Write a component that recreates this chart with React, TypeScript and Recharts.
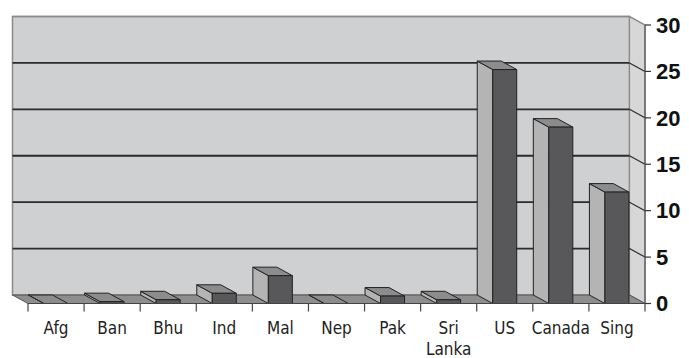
import React from 'react'
import { BarChart, Bar, XAxis, YAxis, CartesianGrid } from 'recharts'

const CATEGORIES = ['Afg', 'Ban', 'Bhu', 'Ind', 'Mal', 'Nep', 'Pak', 'Sri Lanka', 'US', 'Canada', 'Sing']
const VALUES = [0, 0.2, 0.4, 1.1, 3.0, 0, 0.8, 0.4, 25.2, 19.0, 12.0]
const Y_TICKS = [0, 5, 10, 15, 20, 25, 30]

const W = 689
const H = 358
const M = { top: 25, right: 0, left: 28, bottom: 0 }
const X_AXIS_H = 54.5
const Y_AXIS_W = 44
// 3d depth offset (front -> back)
const DX = 15.5
const DY = 8.5

const PL = M.left
const PR = W - M.right - Y_AXIS_W
const PT = M.top
const PB = H - M.bottom - X_AXIS_H

const COLORS = {
  wall: '#cfd0d2',
  sideWall: '#d7d7d8',
  floor: '#8e8e8e',
  front: '#58585a',
  side: '#b4b4b4',
  top: '#8c8c8c',
  grid: '#2b2b2b',
  edge: '#8a8a8a',
}

const data = CATEGORIES.map((name, i) => ({ name, value: VALUES[i] }))

function Walls() {
  return (
    <svg width={W} height={H} style={{ position: 'absolute', left: 0, top: 0 }}>
      <rect x={PL - DX} y={PT - DY} width={PR - PL} height={PB - PT} fill={COLORS.wall} stroke={COLORS.edge} strokeWidth={1.5} />
      <polygon
        points={`${PR - DX},${PT - DY} ${PR},${PT} ${PR},${PB} ${PR - DX},${PB - DY}`}
        fill={COLORS.sideWall} stroke={COLORS.edge} strokeWidth={1.2}
      />
      <polygon
        points={`${PL - DX},${PB - DY} ${PR - DX},${PB - DY} ${PR},${PB} ${PL},${PB}`}
        fill={COLORS.floor} stroke="#555" strokeWidth={1}
      />
    </svg>
  )
}

function GridLine(props: any) {
  const { x1, x2, y1 } = props
  if (Math.abs(y1 - PB) < 0.5) return <g />
  const isTop = Math.abs(y1 - PT) < 0.5
  const stroke = isTop ? COLORS.edge : COLORS.grid
  return (
    <g>
      <line x1={x1 - DX} y1={y1 - DY} x2={x2 - DX} y2={y1 - DY} stroke={stroke} strokeWidth={isTop ? 1.5 : 1.8} />
      <line x1={x2 - DX} y1={y1 - DY} x2={x2} y2={y1} stroke={stroke} strokeWidth={1.2} />
    </g>
  )
}

function Bar3D(props: any) {
  const { x, y, width, height } = props
  if (x == null || y == null) return <g />
  const h = Math.max(0, height)
  return (
    <g stroke="#222" strokeWidth={1} strokeLinejoin="round">
      <polygon points={`${x},${y} ${x - DX},${y - DY} ${x - DX},${y + h - DY} ${x},${y + h}`} fill={COLORS.side} />
      <polygon points={`${x},${y} ${x - DX},${y - DY} ${x + width - DX},${y - DY} ${x + width},${y}`} fill={COLORS.top} />
      <rect x={x} y={y} width={width} height={h} fill={COLORS.front} />
    </g>
  )
}

function XTick(props: any) {
  const { x, y, payload, index } = props
  const half = payload?.offset || (PR - PL) / CATEGORIES.length / 2
  const lines = String(payload.value).split(' ')
  return (
    <g>
      <line x1={x - half} y1={PB} x2={x - half} y2={PB + 8} stroke="#444" strokeWidth={1.2} />
      {index === CATEGORIES.length - 1 && (
        <line x1={x + half} y1={PB} x2={x + half} y2={PB + 8} stroke="#444" strokeWidth={1.2} />
      )}
      <text
        x={x} y={y + 22} textAnchor="middle" fill="#222"
        style={{ fontFamily: "'Liberation Sans Narrow', 'DejaVu Sans Condensed', 'Liberation Sans', sans-serif", fontSize: 17 }}
      >
        {lines.map((l, i) => (
          <tspan key={i} x={x} dy={i === 0 ? 0 : 21}>{l}</tspan>
        ))}
      </text>
    </g>
  )
}

export default function App() {
  return (
    <div style={{ position: 'absolute', left: 0, top: 0, width: W, height: H, background: '#fff' }}>
      <Walls />
      <div style={{ position: 'absolute', left: 0, top: 0 }}>
        <BarChart width={W} height={H} data={data} margin={M} barCategoryGap={0}>
          <CartesianGrid vertical={false} horizontal={(p: any) => <GridLine {...p} />} />
          <XAxis
            dataKey="name" height={X_AXIS_H} interval={0} tickLine={false} tickSize={6}
            axisLine={{ stroke: '#444', strokeWidth: 1.2 }} tick={<XTick />}
          />
          <YAxis
            orientation="right" width={Y_AXIS_W} domain={[0, 30]} ticks={Y_TICKS} interval={0}
            allowDataOverflow tickSize={6} tickMargin={5}
            axisLine={{ stroke: '#555', strokeWidth: 1.2 }} tickLine={{ stroke: '#333', strokeWidth: 1.2 }}
            tick={{ fontFamily: "'Liberation Sans', Arial, sans-serif", fontSize: 22, fontWeight: 700, fill: '#111' }}
          />
          <Bar dataKey="value" barSize={24} shape={<Bar3D />} isAnimationActive={false} />
        </BarChart>
      </div>
    </div>
  )
}
